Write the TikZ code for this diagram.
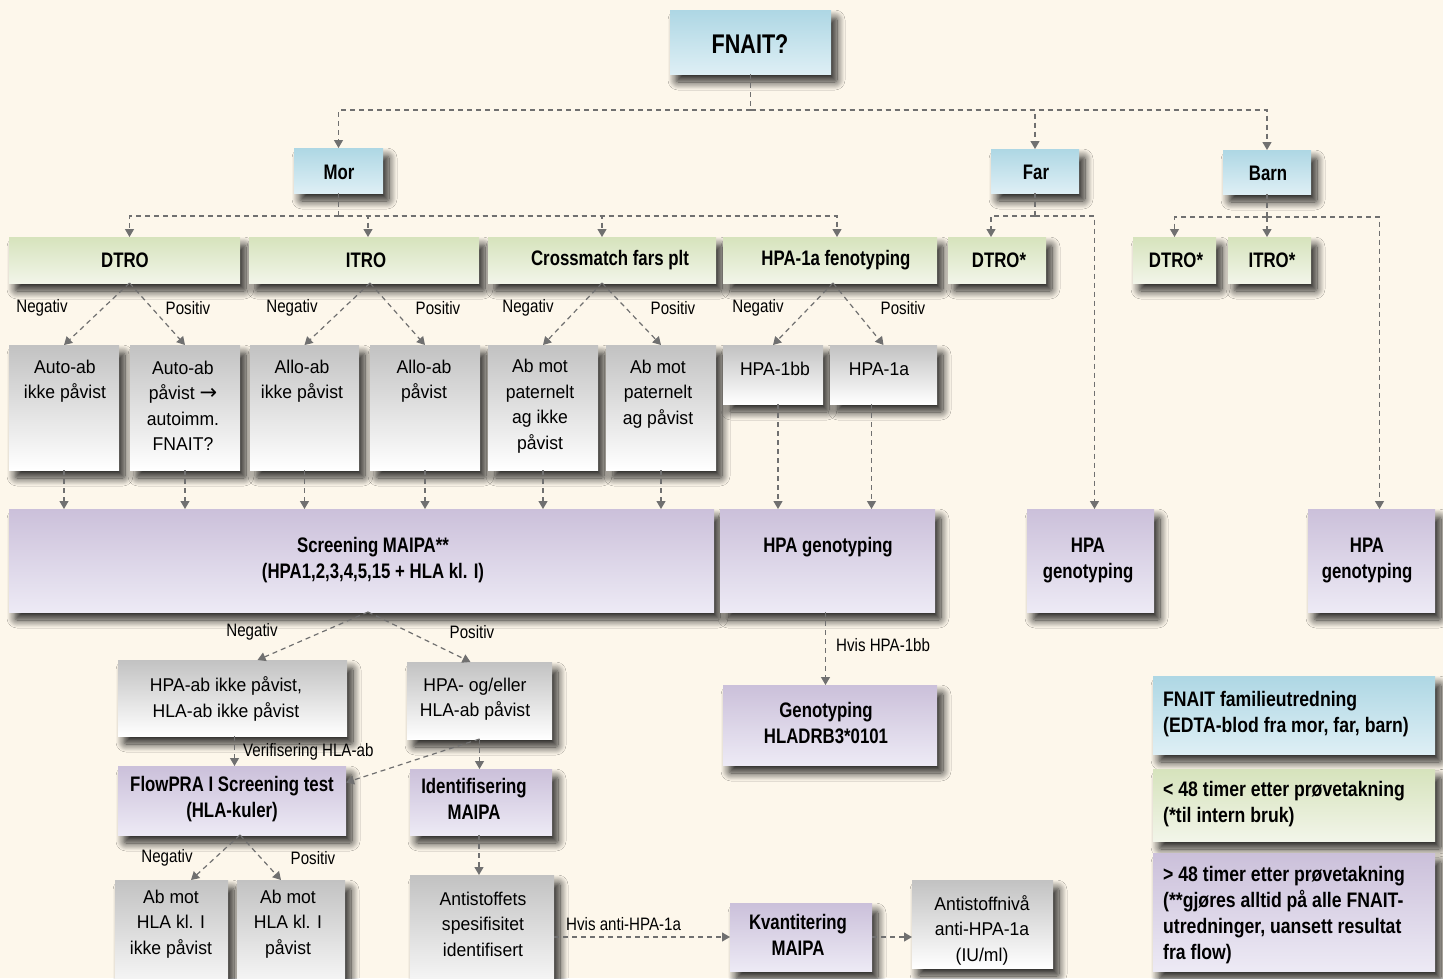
\documentclass[tikz,border=0pt]{standalone}
\usepackage{fontspec}
\setmainfont{Liberation Sans}[FakeStretch=0.95, BoldFeatures={FakeStretch=0.8}]
\newfontfamily\lblfont{Liberation Sans}[FakeStretch=0.84]
\newfontfamily\legfont{Liberation Sans}[FakeStretch=0.84]
\newfontfamily\arrfont{DejaVu Sans}
\usetikzlibrary{arrows.meta, shadows.blur, calc}
\definecolor{bg}{RGB}{253,247,235}
\definecolor{blueT}{RGB}{174,215,228}
\definecolor{blueB}{RGB}{222,239,245}
\definecolor{greenT}{RGB}{214,227,188}
\definecolor{greenB}{RGB}{242,245,233}
\definecolor{grayT}{RGB}{194,194,194}
\definecolor{grayM}{RGB}{234,234,234}
\definecolor{purT}{RGB}{203,192,218}
\definecolor{purB}{RGB}{237,234,245}
\definecolor{lnc}{RGB}{112,112,112}
\newcommand\bx[6]{%
  \pgfmathsetmacro\bxw{#5-#3}\pgfmathsetmacro\bxh{#6-#4}%
  \pgfmathsetmacro\bxx{(#3+#5)/2}\pgfmathsetmacro\bxy{(#4+#6)/2}%
  \node[#2, minimum width=\bxw pt, minimum height=\bxh pt] (#1) at (\bxx,\bxy) {};}
\tikzset{
  box/.style={rectangle, inner sep=0pt, outer sep=0pt,
    blur shadow={shadow xshift=6pt, shadow yshift=-8pt, shadow blur radius=8pt,
      shadow blur steps=12, shadow opacity=85, shadow blur extra rounding=2pt}},
  bluebox/.style={box, top color=blueT, bottom color=blueB},
  greenbox/.style={box, top color=greenT, bottom color=greenB},
  graybox/.style={box, top color=grayT, middle color=grayM, bottom color=white},
  purbox/.style={box, top color=purT, bottom color=purB},
  txt/.style={font=\fontsize{18.5}{25.5}\selectfont, align=center, inner sep=0pt},
  btxt/.style={font=\fontsize{21}{26}\selectfont\bfseries, align=center, inner sep=0pt},
  legtxt/.style={font=\legfont\fontsize{21}{26}\selectfont\bfseries, align=left, inner sep=0pt, anchor=west},
  lbl/.style={font=\lblfont\fontsize{18}{22}\selectfont, inner sep=0pt},
  dl/.style={draw=lnc, line width=1.2pt, dash pattern=on 5pt off 4pt},
  arr/.style={dl, -{Triangle[width=9pt,length=8pt]}},
}
\begin{document}
\begin{tikzpicture}[x=1pt,y=-1pt]
\useasboundingbox (0,0) rectangle (1443,978);
\fill[bg] (0,0) rectangle (1443,978);

% top level
\bx{fnait}{bluebox}{670}{10}{831}{74}
\node[font=\fontsize{27}{30}\selectfont\bfseries, inner sep=0pt] (fnaitt) at (750,44) {FNAIT?};
\bx{mor}{bluebox}{294}{148}{383}{193}
\node[btxt] (mort) at (339,172) {Mor};
\bx{far}{bluebox}{991}{149}{1079}{193}
\node[btxt] (fart) at (1036,172) {Far};
\bx{barn}{bluebox}{1223}{150}{1311}{194}
\node[btxt] (barnt) at (1268,173) {Barn};

% green row
\bx{dtro}{greenbox}{9}{237}{240}{283}
\node[btxt] (dtrot) at (125,260) {DTRO};
\bx{itro}{greenbox}{249}{237}{479}{283}
\node[btxt] (itrot) at (366,260) {ITRO};
\bx{cross}{greenbox}{488}{237}{716}{283}
\node[btxt] (crosst) at (610,260) {Crossmatch fars plt};
\bx{hpafen}{greenbox}{723}{237}{937}{283}
\node[btxt] (hpafent) at (836,260) {HPA-1a fenotyping};
\bx{fdtro}{greenbox}{948}{237}{1046}{283}
\node[btxt] (fdtrot) at (999,260) {DTRO*};
\bx{bdtro}{greenbox}{1133}{237}{1216}{283}
\node[btxt] (bdtrot) at (1176,260) {DTRO*};
\bx{bitro}{greenbox}{1228}{237}{1311}{283}
\node[btxt] (bitrot) at (1272,260) {ITRO*};

% gray row
\bx{a1}{graybox}{9}{345}{119}{470}
\node[txt] (a1t) at (65,381) {Auto-ab\\ikke påvist};
\bx{a2}{graybox}{130}{345}{240}{470}
\node[txt] (a2t) at (183,406) {Auto-ab\\påvist {\arrfont\fontsize{21}{25.5}\selectfont →}\\autoimm.\\FNAIT?};
\bx{a3}{graybox}{250}{345}{359}{470}
\node[txt] (a3t) at (302,381) {Allo-ab\\ikke påvist};
\bx{a4}{graybox}{370}{345}{480}{470}
\node[txt] (a4t) at (424,381) {Allo-ab\\påvist};
\bx{a5}{graybox}{488}{345}{598}{470}
\node[txt] (a5t) at (540,406) {Ab mot\\paternelt\\ag ikke\\påvist};
\bx{a6}{graybox}{606}{345}{716}{470}
\node[txt] (a6t) at (658,394) {Ab mot\\paternelt\\ag påvist};
\bx{h1}{graybox}{723}{345}{823}{404}
\node[txt] (h1t) at (775,369) {HPA-1bb};
\bx{h2}{graybox}{830}{345}{937}{404}
\node[txt] (h2t) at (879,369) {HPA-1a};

% purple row
\bx{scr}{purbox}{9}{509}{714}{612}
\node[btxt] (scrt) at (373,560) {Screening MAIPA**\\(HPA1,2,3,4,5,15 + HLA kl. I)};
\bx{hpag}{purbox}{720}{509}{935}{612}
\node[btxt] (hpagt) at (828,547) {HPA genotyping};
\bx{fhpa}{purbox}{1027}{509}{1154}{612}
\node[btxt] (fhpat) at (1088,560) {HPA\\genotyping};
\bx{bhpa}{purbox}{1308}{509}{1435}{612}
\node[btxt] (bhpat) at (1367,560) {HPA\\genotyping};

% lower part
\bx{hab1}{graybox}{118}{660}{347}{736}
\node[txt] (hab1t) at (226,699) {HPA-ab ikke påvist,\\HLA-ab ikke påvist};
\bx{hab2}{graybox}{407}{662}{552}{739}
\node[txt] (hab2t) at (475,699) {HPA- og/eller\\HLA-ab påvist};
\bx{flow}{purbox}{118}{766}{346}{835}
\node[btxt] (flowt) at (232,799) {FlowPRA I Screening test\\(HLA-kuler)};
\bx{ident}{purbox}{410}{769}{552}{835}
\node[btxt] (identt) at (474,799) {Identifisering\\MAIPA};
\bx{c1}{graybox}{115}{880}{228}{1000}
\node[txt] (c1t) at (171,924) {Ab mot\\HLA kl. I\\ikke påvist};
\bx{c2}{graybox}{237}{880}{345}{1000}
\node[txt] (c2t) at (288,924) {Ab mot\\HLA kl. I\\påvist};
\bx{anti}{graybox}{410}{875}{554}{1000}
\node[txt] (antit) at (483,924) {Antistoffets\\spesifisitet\\identifisert};
\bx{kvant}{purbox}{730}{903}{872}{971}
\node[btxt] (kvantt) at (798,935) {Kvantitering\\MAIPA};
\bx{niv}{graybox}{912}{880}{1053}{968}
\node[txt] (nivt) at (982,930) {Antistoffnivå\\anti-HPA-1a\\(IU/ml)};
\bx{geno}{purbox}{723}{685}{937}{765}
\node[btxt] (genot) at (826,723) {Genotyping\\HLADRB3*0101};

% legend
\bx{leg1}{bluebox}{1153}{676}{1435}{754}
\node[legtxt] (leg1t) at (1163,714) {FNAIT familieutredning\\(EDTA-blod fra mor, far, barn)};
\bx{leg2}{greenbox}{1153}{769}{1435}{841}
\node[legtxt] (leg2t) at (1163,804) {< 48 timer etter prøvetakning\\(*til intern bruk)};
\bx{leg3}{purbox}{1153}{853}{1435}{971}
\node[legtxt] (leg3t) at (1163,915) {> 48 timer etter prøvetakning\\(**gjøres alltid på alle FNAIT-\\utredninger, uansett resultat\\fra flow)};

% labels
\node[lbl] (l1) at (42,308) {Negativ};
\node[lbl] (l2) at (188,308) {Positiv};
\node[lbl] (l3) at (292,308) {Negativ};
\node[lbl] (l4) at (438,308) {Positiv};
\node[lbl] (l5) at (528,308) {Negativ};
\node[lbl] (l6) at (673,308) {Positiv};
\node[lbl] (l7) at (758,308) {Negativ};
\node[lbl] (l8) at (903,308) {Positiv};
\node[lbl] (l9) at (252,632) {Negativ};
\node[lbl] (l10) at (472,632) {Positiv};
\node[lbl] (l11) at (167,858) {Negativ};
\node[lbl] (l12) at (313,858) {Positiv};
\node[lbl, anchor=west] (l13) at (243,752) {Verifisering HLA-ab};
\node[lbl, anchor=west] (l14) at (836,645) {Hvis HPA-1bb};
\node[lbl, anchor=west] (l15) at (566,924) {Hvis anti-HPA-1a};

% connectors: top
\path (fnait.south) ++(0,36) coordinate (jf);
\draw[dl] (fnait.south) -- (jf);
\draw[arr] (jf) -| (mor.north);
\draw[arr] (jf) -| (far.north);
\draw[arr] (jf) -| (barn.north);

\path (mor.south) ++(0,23) coordinate (jm);
\draw[dl] (mor.south) -- (jm);
\draw[arr] (jm) -| ([xshift=5pt]dtro.north);
\draw[arr] (jm) -| ([xshift=4pt]itro.north);
\draw[arr] (jm) -| (cross.north);
\draw[arr] (jm) -| ([xshift=7pt]hpafen.north);

\path (far.south) ++(0,23) coordinate (jfa);
\draw[dl] (far.south) -- (jfa);
\draw[arr] (jfa) -| ([xshift=-6pt]fdtro.north);
\draw[arr] (jfa) -| ([xshift=4pt]fhpa.north);

\path (barn.south) ++(0,23) coordinate (jb);
\draw[dl] (barn.south) -- (jb);
\draw[arr] (jb) -| (bdtro.north);
\draw[arr] (jb) -- (jb |- bitro.north);
\draw[arr] (jb) -| ([xshift=8pt]bhpa.north);

% diagonals row 2 -> row 3
\draw[arr] ([xshift=5pt]dtro.south) -- (a1.north);
\draw[arr] ([xshift=5pt]dtro.south) -- (a2.north);
\draw[arr] ([xshift=6pt]itro.south) -- (a3.north);
\draw[arr] ([xshift=6pt]itro.south) -- (a4.north);
\draw[arr] (cross.south) -- (a5.north);
\draw[arr] (cross.south) -- (a6.north);
\draw[arr] ([xshift=3pt]hpafen.south) -- (h1.north);
\draw[arr] ([xshift=3pt]hpafen.south) -- (h2.north);

% row 3 -> purple row
\foreach \n in {a1,a2,a3,a4,a5,a6}
  \draw[arr] (\n.south) -- (\n.south |- scr.north);
\draw[arr] ([xshift=5pt]h1.south) -- ([xshift=5pt]h1.south |- hpag.north);
\draw[arr] ([xshift=-12pt]h2.south) -- ([xshift=-12pt]h2.south |- hpag.north);

% screening -> results
\draw[arr] ([xshift=6.5pt]scr.south) -- ([xshift=25pt]hab1.north);
\draw[arr] ([xshift=6.5pt]scr.south) -- ([xshift=-9pt]hab2.north);
\draw[arr] ([xshift=2pt]hab1.south) -- ([xshift=2pt]hab1.south |- flow.north);
\draw[arr] (hab2.south) -- (hab2.south |- ident.north);
\draw[arr] (hab2.south) -- ([yshift=18pt]flow.east);
\draw[arr] ([xshift=8pt]flow.south) -- ([xshift=19.5pt]c1.north);
\draw[arr] ([xshift=8pt]flow.south) -- ([xshift=-10pt]c2.north);
\draw[arr] ([xshift=-2pt]ident.south) -- ([xshift=-2pt]ident.south |- anti.north);
\draw[arr] (anti.east |- kvant.west) -- (kvant.west);
\draw[arr] (kvant.east) -- (kvant.east -| niv.west);
\draw[arr] ([xshift=-2pt]hpag.south) -- ([xshift=-2pt]hpag.south |- geno.north);
\end{tikzpicture}
\end{document}
